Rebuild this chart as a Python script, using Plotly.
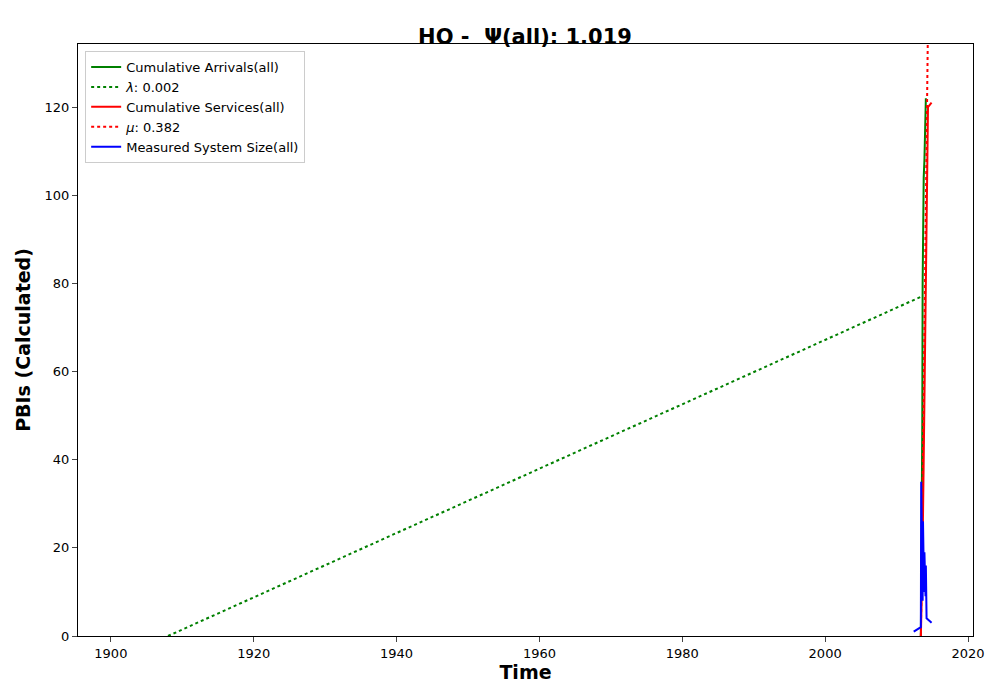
import plotly.graph_objects as go

# decimal years
arr_t = [2013.4, 2013.5, 2013.6, 2013.65, 2013.7, 2013.8, 2013.9, 2014.0, 2014.1]
arr_n = [0, 20, 48, 80, 100, 104, 108, 116, 122]
srv_t = [2013.4, 2013.6, 2013.8, 2014.0, 2014.2, 2014.4, 2014.9]
srv_n = [0, 15, 40, 70, 97, 120, 121]
lam_t = [1908.0, 2013.6]
lam_n = [0, 77.1]
mu_t = [2013.4, 2014.5]
mu_n = [0, 153]
sys_t = [2012.4, 2013.4, 2013.45, 2013.55, 2013.6, 2013.65, 2013.7, 2013.75, 2013.8,
         2013.85, 2013.9, 2013.95, 2014.0, 2014.05, 2014.1, 2014.15, 2014.2, 2014.9]
sys_n = [1, 2, 35, 12, 22, 8, 26, 14, 18, 10, 19, 12, 15, 9, 16, 11, 4, 3]

fig = go.Figure()
fig.add_trace(go.Scatter(x=arr_t, y=arr_n, mode="lines", name="Cumulative Arrivals(all)",
                         line=dict(color="green", width=2)))
fig.add_trace(go.Scatter(x=lam_t, y=lam_n, mode="lines", name="<i>λ</i>: 0.002",
                         line=dict(color="green", width=2, dash="dot")))
fig.add_trace(go.Scatter(x=srv_t, y=srv_n, mode="lines", name="Cumulative Services(all)",
                         line=dict(color="red", width=2)))
fig.add_trace(go.Scatter(x=mu_t, y=mu_n, mode="lines", name="<i>μ</i>: 0.382",
                         line=dict(color="red", width=2, dash="dot")))
fig.add_trace(go.Scatter(x=sys_t, y=sys_n, mode="lines", name="Measured System Size(all)",
                         line=dict(color="blue", width=2)))

fig.update_layout(
    width=1000, height=700,
    plot_bgcolor="white", paper_bgcolor="white",
    font=dict(family="DejaVu Sans", size=13, color="black"),
    title=dict(text="<b>HO -  Ψ(all): 1.019</b>", x=0.517, xanchor="center", y=0.97,
               font=dict(size=21)),
    margin=dict(l=70, r=35, t=36, b=72),
    legend=dict(x=0.008, y=0.988, xanchor="left", yanchor="top", bordercolor="#cccccc",
                borderwidth=1, bgcolor="white", font=dict(size=13)),
    xaxis=dict(range=[1895.4, 2020.7], tickvals=[1900, 1920, 1940, 1960, 1980, 2000, 2020],
               showgrid=False, zeroline=False, showline=True, linecolor="black", mirror=True,
               ticks="outside", ticklen=5,
               title=dict(text="<b>Time</b>", font=dict(size=19), standoff=6)),
    yaxis=dict(range=[0, 134.3], tickvals=[0, 20, 40, 60, 80, 100, 120],
               showgrid=False, zeroline=False, showline=True, linecolor="black", mirror=True,
               ticks="outside", ticklen=5,
               title=dict(text="<b>PBIs (Calculated)</b>", font=dict(size=19), standoff=8)),
)
fig.write_html("out.html")
